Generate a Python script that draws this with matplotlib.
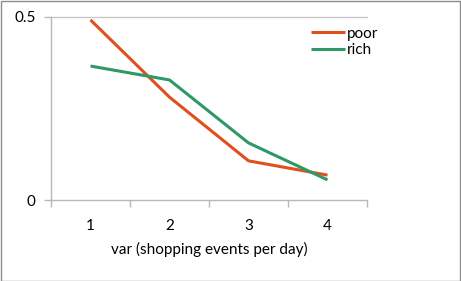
import matplotlib.pyplot as plt
from matplotlib.patches import Rectangle

categories = ["1", "2", "3", "4"]
poor = [0.492, 0.281, 0.107, 0.068]
rich = [0.366, 0.328, 0.156, 0.055]

plt.rcParams['font.family'] = ['Lato', 'DejaVu Sans']

fig = plt.figure(figsize=(4.61, 2.81), dpi=100)
W, H = 461, 281
ax = fig.add_axes([51 / W, (H - 200) / H, 316 / W, 183 / H])

x = range(len(categories))
ax.plot(x, poor, color="#E0501E", linewidth=2.2, label="poor", solid_capstyle="butt")
ax.plot(x, rich, color="#2E9866", linewidth=2.2, label="rich", solid_capstyle="butt")

ax.set_xlim(-0.5, len(categories) - 0.5)
ax.set_ylim(0, 0.5)
ax.set_yticks([0, 0.5])
ax.set_yticklabels(["0", "0.5"])
ax.set_xticks(x)
ax.set_xticklabels(categories)
ax.set_xticks([i - 0.5 for i in range(len(categories) + 1)], minor=True)
ax.tick_params(axis="x", which="major", length=0, pad=14, labelsize=11)
ax.tick_params(axis="x", which="minor", length=5, color="#B8B8B8", width=1)
ax.tick_params(axis="y", length=5, color="#B8B8B8", width=1, labelsize=11, pad=6)
ax.axhline(0.5, color="#C8C8C8", linewidth=1, clip_on=False)

for side in ["top", "right"]:
    ax.spines[side].set_visible(False)
for side in ["left", "bottom"]:
    ax.spines[side].set_color("#B8B8B8")
    ax.spines[side].set_linewidth(1)

ax.set_xlabel("var (shopping events per day)", fontsize=11, labelpad=6)

ax.legend(loc="upper left", bbox_to_anchor=(0.805, 0.98), frameon=False,
          fontsize=11, handlelength=2.2, handletextpad=0.1, labelspacing=0.15,
          borderaxespad=0)

fig.patches.append(Rectangle((0.5 / W, 0.5 / H), 1 - 1.5 / W, 1 - 1.5 / H,
                             transform=fig.transFigure, fill=False,
                             edgecolor="#8C8C8C", linewidth=1))

fig.savefig("out.png", dpi=100)
